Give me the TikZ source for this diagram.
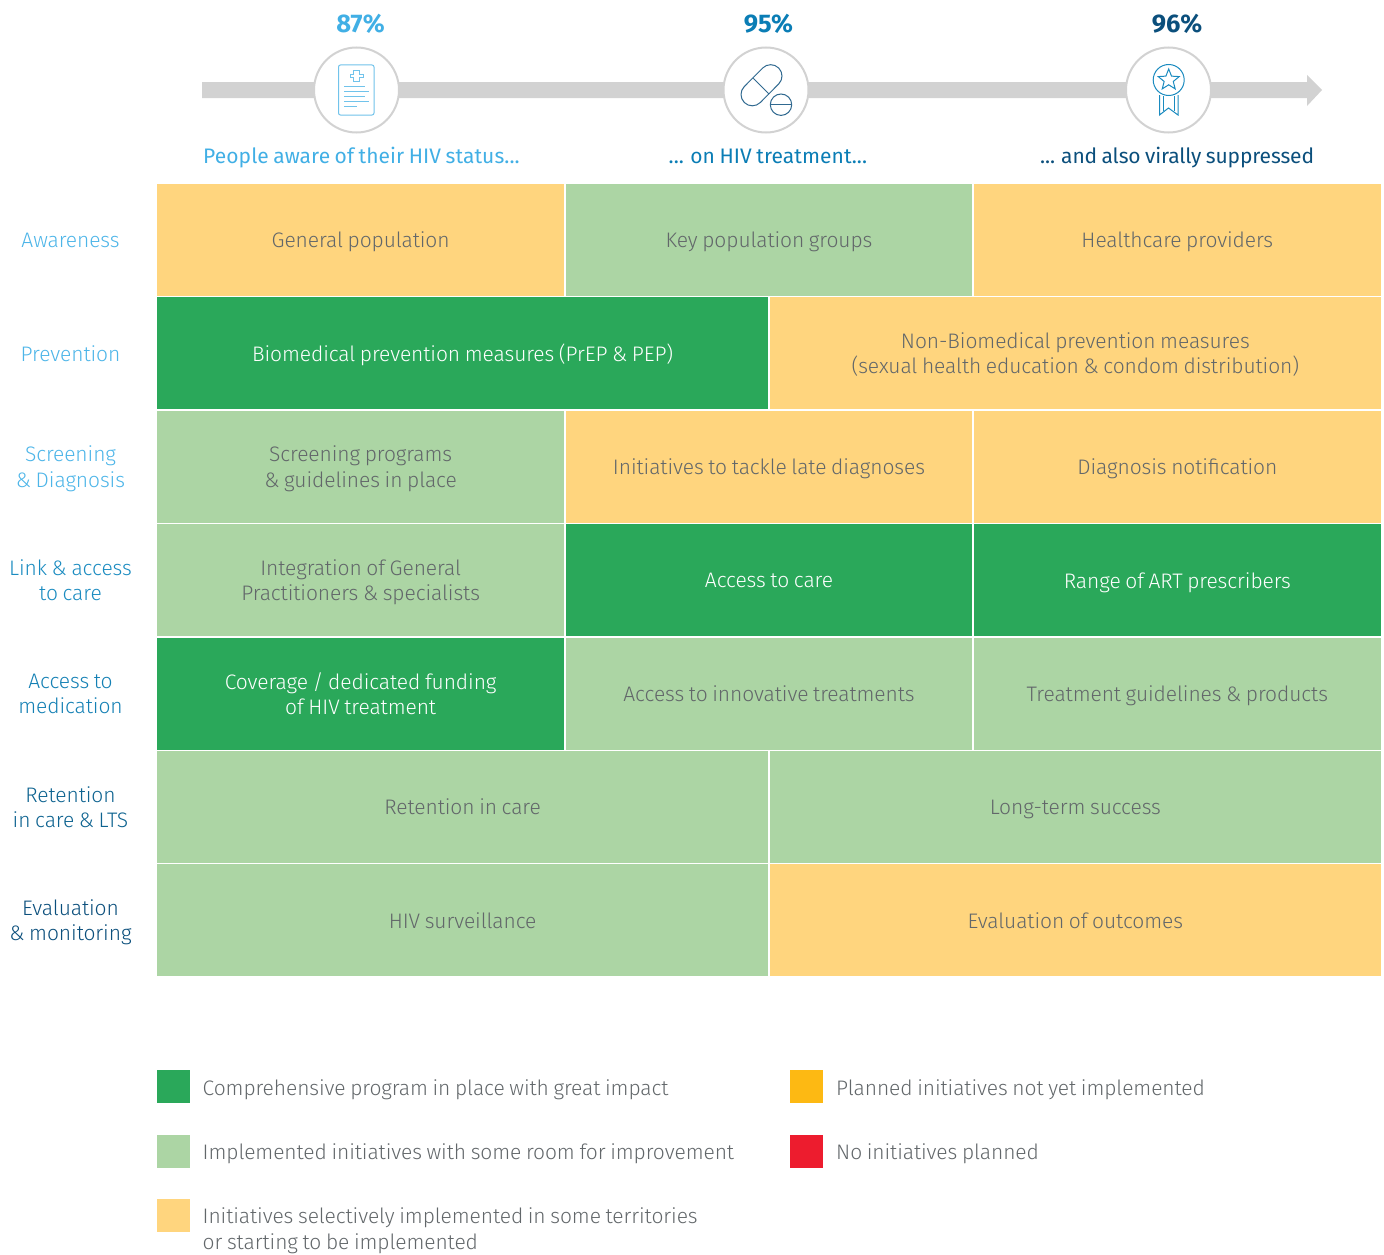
\documentclass[tikz,border=0pt]{standalone}
\usepackage{fontspec}
\setmainfont{Fira Sans}[UprightFont=* Light,BoldFont=* Bold,WordSpace=0.8,LetterSpace=-0.4]
\newfontfamily\firareg{Fira Sans}[WordSpace=0.8,LetterSpace=-0.6]
\newfontfamily\firaregw{Fira Sans}[WordSpace=0.8,LetterSpace=0.4]
\usetikzlibrary{shapes.geometric}
\definecolor{cyel}{HTML}{FFD57E}
\definecolor{clgr}{HTML}{ACD5A4}
\definecolor{cdgr}{HTML}{2AA85A}
\definecolor{corg}{HTML}{FDB913}
\definecolor{cred}{HTML}{ED1C2E}
\definecolor{ctxt}{HTML}{62676A}
\definecolor{cbar}{HTML}{D2D2D2}
\definecolor{cA}{HTML}{41AFE5}
\definecolor{cB}{HTML}{0A7DB5}
\definecolor{cC}{HTML}{0B4F7C}
\definecolor{rA}{HTML}{4DB5E8}
\definecolor{rC}{HTML}{1A8BC0}
\definecolor{rD}{HTML}{1480B4}
\definecolor{rE}{HTML}{0E6390}
\definecolor{rF}{HTML}{0B4F7C}
\newcommand{\mystrut}{\rule[-5pt]{0pt}{20pt}}
\tikzset{
  x=1pt,y=-1pt,
  lab/.style={font=\fontsize{21}{25.5}\selectfont,align=center,inner sep=0pt,
    execute at begin node=\mystrut,execute at end node=\mystrut},
  rowt/.style={lab,anchor=center},
  leg/.style={lab,text=ctxt,align=left,anchor=west,font=\fontsize{21}{26}\selectfont},
  swatch/.style={draw=none,minimum width=33pt,minimum height=33pt,inner sep=0pt,anchor=north west},
  pct/.style={font=\fontsize{25.5}{30}\selectfont\bfseries,inner sep=0pt},
  stage/.style={lab,font=\fontsize{21}{26}\selectfont\firareg,anchor=west},
  stagew/.style={lab,font=\fontsize{21}{26}\selectfont\firaregw,anchor=west},
  ring/.style={circle,draw=cbar,line width=2pt,fill=white,minimum size=85pt,inner sep=0pt},
}
\newcommand{\cellbox}[7]{%
  \path[fill=#6] (#2,#3) rectangle (#4,#5);
  \node[lab,text=#7] (#1) at ({(#2+#4)/2},{(#3+#5)/2+2.7})}
\begin{document}
\begin{tikzpicture}
\useasboundingbox (0,0) rectangle (1384,1255);
% arrow
\path[fill=cbar] (202,82) -- (1307,82) -- (1307,75) -- (1322,90) -- (1307,106) -- (1307,98) -- (202,98) -- cycle;
\node[ring] (r1) at (356.5,90) {};
\node[ring] (r2) at (766,90) {};
\node[ring] (r3) at (1168.5,90) {};
\node[pct,text=cA] (p1) at (360.5,24) {87\%};
\node[pct,text=cB] (p2) at (768.5,24) {95\%};
\node[pct,text=cC] (p3) at (1177,24) {96\%};
\node[stagew,text=cA] (s1) at (203,158) {People aware of their HIV status...};
\node[stagew,text=cB] (s2) at (668.5,158) {... on HIV treatment...};
\node[stage,text=cC] (s3) at (1040,158) {... and also virally suppressed};
% icon 1
\begin{scope}[draw=cA!75,line width=1pt]
\draw[rounded corners=2pt] (338.5,65) rectangle (374,115);
\draw (353.5,71) -- (359.5,71) -- (359.5,74.5) -- (363,74.5) -- (363,77.5) -- (359.5,77.5) -- (359.5,81) -- (353.5,81) -- (353.5,77.5) -- (350,77.5) -- (350,74.5) -- (353.5,74.5) -- cycle;
\draw (344,86) -- (365,86) (344,91) -- (369,91) (344,96) -- (365,96) (344,101) -- (369,101) (344,106) -- (357,106);
\end{scope}
% icon 2
\begin{scope}[draw=cC!85,line width=1pt]
\draw (744.3,86.5) -- (762.7,68) arc[start angle=225,end angle=405,radius=11.3] -- (760.3,102.5) arc[start angle=45,end angle=225,radius=11.3] -- cycle;
\draw (753.3,78.3) -- (769,94);
\draw (781,104.7) circle[radius=10.7];
\draw (770.3,104.7) -- (791.7,104.7);
\end{scope}
% icon 3
\begin{scope}[draw=rC,line width=1pt]
\draw (1168.7,80) circle[radius=15.5];
\node[draw=rC,line width=1pt,star,star points=5,star point ratio=2.3,minimum size=22pt,inner sep=0pt] (st) at (1168.7,80) {};
\draw (1159.5,95) -- (1159.5,115) -- (1168.5,108) -- (1178,115) -- (1178,95);
\draw (1163.5,96) -- (1163.5,111) (1174,96) -- (1174,111);
\end{scope}
% row labels
\node[rowt,text=rA] (l1) at (70.5,242.7) {Awareness};
\node[rowt,text=rA] (l2) at (70.5,355.7) {Prevention};
\node[rowt,text=rA] (l3) at (70.5,469) {Screening\\\& Diagnosis};
\node[rowt,text=rC] (l4) at (70.5,582.7) {Link \& access\\to care};
\node[rowt,text=rD] (l5) at (70.5,696.5) {Access to\\medication};
\node[rowt,text=rE] (l6) at (70.5,809.5) {Retention\\in care \& LTS};
\node[rowt,text=rF] (l7) at (70.5,922.7) {Evaluation\\\& monitoring};
% grid
\cellbox{c11}{157}{183.5}{564.3}{295.5}{cyel}{ctxt} {General population};
\cellbox{c12}{565.7}{183.5}{972.3}{295.5}{clgr}{ctxt} {Key population groups};
\cellbox{c13}{973.7}{183.5}{1381}{295.5}{cyel}{ctxt} {Healthcare providers};
\cellbox{c21}{157}{297}{768.3}{409}{cdgr}{white} {Biomedical prevention measures (PrEP \& PEP)};
\cellbox{c22}{769.7}{297}{1381}{409}{cyel}{ctxt} {Non-Biomedical prevention measures\\(sexual health education \& condom distribution)};
\cellbox{c31}{157}{410.5}{564.3}{522.5}{clgr}{ctxt} {Screening programs\\\& guidelines in place};
\cellbox{c32}{565.7}{410.5}{972.3}{522.5}{cyel}{ctxt} {Initiatives to tackle late diagnoses};
\cellbox{c33}{973.7}{410.5}{1381}{522.5}{cyel}{ctxt} {Diagnosis notification};
\cellbox{c41}{157}{524}{564.3}{636}{clgr}{ctxt} {Integration of General\\Practitioners \& specialists};
\cellbox{c42}{565.7}{524}{972.3}{636}{cdgr}{white} {Access to care};
\cellbox{c43}{973.7}{524}{1381}{636}{cdgr}{white} {Range of ART prescribers};
\cellbox{c51}{157}{637.5}{564.3}{749.5}{cdgr}{white} {Coverage / dedicated funding\\of HIV treatment};
\cellbox{c52}{565.7}{637.5}{972.3}{749.5}{clgr}{ctxt} {Access to innovative treatments};
\cellbox{c53}{973.7}{637.5}{1381}{749.5}{clgr}{ctxt} {Treatment guidelines \& products};
\cellbox{c61}{157}{751}{768.3}{862.5}{clgr}{ctxt} {Retention in care};
\cellbox{c62}{769.7}{751}{1381}{862.5}{clgr}{ctxt} {Long-term success};
\cellbox{c71}{157}{864}{768.3}{976}{clgr}{ctxt} {HIV surveillance};
\cellbox{c72}{769.7}{864}{1381}{976}{cyel}{ctxt} {Evaluation of outcomes};
% legend
\node[swatch,fill=cdgr] (k1) at (157,1070) {};
\node[swatch,fill=clgr] (k2) at (157,1135) {};
\node[swatch,fill=cyel] (k3) at (157,1199) {};
\node[swatch,fill=corg] (k4) at (790,1070) {};
\node[swatch,fill=cred] (k5) at (790,1135) {};
\node[leg] (t1) at (202.5,1090) {Comprehensive program in place with great impact};
\node[leg] (t2) at (202.5,1154) {Implemented initiatives with some room for improvement};
\node[leg] (t3) at (202.5,1231.5) {Initiatives selectively implemented in some territories\\or starting to be implemented};
\node[leg] (t4) at (836,1090) {Planned initiatives not yet implemented};
\node[leg] (t5) at (836,1154) {No initiatives planned};
\end{tikzpicture}
\end{document}
